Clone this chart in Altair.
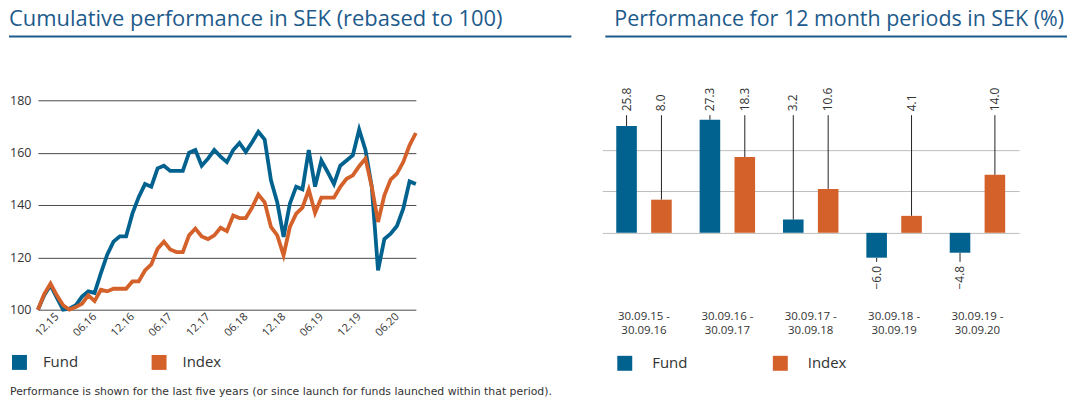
import altair as alt
import pandas as pd

FONT = "Open Sans"
NOTE_FONT = "DejaVu Sans"
TITLE_BLUE = "#1d5b8c"
TEXT = "#333333"
SERIES = ["Fund", "Index"]
COLORS = ["#02628f", "#d4602a"]

LEFT_TITLE = "Cumulative performance in SEK (rebased to 100)"
RIGHT_TITLE = "Performance for 12 month periods in SEK (%)"
FOOTNOTE = ("Performance is shown for the last five years "
            "(or since launch for funds launched within that period).")

# ---- cumulative chart data (monthly, 09.15 .. 09.20) ----
MONTHS = list(range(61))
X_TICK_POS = [3, 9, 15, 21, 27, 33, 39, 45, 51, 57]
X_TICK_LABELS = ["12.15", "06.16", "12.16", "06.17", "12.17",
                 "06.18", "12.18", "06.19", "12.19", "06.20"]
Y_TICKS = [100, 120, 140, 160, 180]
FUND_CUM = [100, 105.5, 109.3, 104.6, 100, 100.4, 101.7, 105, 107, 106.4,
            114, 121, 126, 128, 128, 136.7, 143, 148, 147, 154,
            155, 153, 153, 153, 160, 161, 155, 157.7, 161, 158.5,
            156.4, 161, 163.7, 160.3, 164, 168, 165, 149.4, 141, 127.8,
            140.5, 147, 146, 161, 147, 157, 152.6, 148, 155, 157,
            159, 168.8, 161, 147, 115, 127, 129, 132, 138.6, 149, 148]
INDEX_CUM = [100, 106, 110, 105.5, 101.7, 100, 101, 102.3, 105.5, 103.3,
             107.6, 107, 108, 108, 108, 110.8, 110.8, 115, 117.3, 123.3,
             126, 123, 122, 122, 128.4, 131, 128, 127, 128.4, 131.3,
             130, 136, 135, 135, 139, 144, 141, 131.6, 128.4, 120.8,
             131.6, 136.7, 139, 145.9, 137, 142.8, 142.8, 142.8, 146.9, 150,
             151.3, 154.8, 157.7, 147, 133.5, 143.7, 149.7, 152, 156.4, 162.8, 167.5]

# ---- 12 month periods data ----
PERIODS = ["30.09.15 - 30.09.16", "30.09.16 - 30.09.17", "30.09.17 - 30.09.18",
           "30.09.18 - 30.09.19", "30.09.19 - 30.09.20"]
FUND_12M = [25.8, 27.3, 3.2, -6.0, -4.8]
INDEX_12M = [8.0, 18.3, 10.6, 4.1, 14.0]
GRID_12M = [0, 10, 20]

df_cum = pd.DataFrame({
    "month": MONTHS * 2,
    "series": ["Fund"] * len(MONTHS) + ["Index"] * len(MONTHS),
    "value": FUND_CUM + INDEX_CUM,
})
df_bar = pd.DataFrame({
    "period": PERIODS * 2,
    "series": ["Fund"] * len(PERIODS) + ["Index"] * len(PERIODS),
    "value": FUND_12M + INDEX_12M,
})


def text_layer(text, x, y, size, color, font=FONT, align="left", baseline="middle"):
    return alt.Chart(pd.DataFrame({"t": [text]})).mark_text(
        align=align, baseline=baseline, fontSize=size, color=color, font=font
    ).encode(x=alt.value(x), y=alt.value(y), text="t:N")


def hrule(x1, x2, y, color, width):
    return alt.Chart(pd.DataFrame({"a": [0]})).mark_rule(
        color=color, strokeWidth=width
    ).encode(x=alt.value(x1), x2=alt.value(x2), y=alt.value(y))


# ================= left chart =================
label_expr = ("[" + ",".join(f"'{s}'" for s in X_TICK_LABELS) + "][indexof(["
              + ",".join(str(v) for v in X_TICK_POS) + "], datum.value)]")

lines = alt.Chart(df_cum).mark_line().encode(
    x=alt.X("month:Q", scale=alt.Scale(domain=[0, 60], nice=False, zero=False),
            axis=alt.Axis(values=X_TICK_POS, labelExpr=label_expr, labelAngle=-45,
                          labelAlign="right", labelBaseline="middle", ticks=False,
                          domain=False, grid=False, labelFontSize=11, labelColor=TEXT,
                          labelPadding=5, title=None)),
    y=alt.Y("value:Q", scale=alt.Scale(domain=[100, 180], nice=False, zero=False),
            axis=alt.Axis(values=Y_TICKS, grid=True, gridColor="#4a4a4a", gridWidth=1,
                          ticks=False, domain=False, labelFontSize=12.5, labelColor=TEXT,
                          labelPadding=7, title=None)),
    color=alt.Color("series:N", scale=alt.Scale(domain=SERIES, range=COLORS),
                    legend=alt.Legend(orient="none", legendX=-26, legendY=255,
                                      direction="horizontal", title=None,
                                      symbolType="square", symbolSize=56,
                                      symbolStrokeWidth=7.5, labelFontSize=15,
                                      labelColor=TEXT, labelOffset=16,
                                      columnPadding=61)),
    strokeWidth=alt.value(3.8),
)

left = alt.layer(
    text_layer(LEFT_TITLE, -29, -81, 22, TITLE_BLUE),
    hrule(-29, 535, -64, TITLE_BLUE, 2),
    lines,
    text_layer(FOOTNOTE, -28, 293, 10.9, TEXT, font=NOTE_FONT),
).properties(width=379, height=210)

# ================= right chart =================
Y_DOM = [-7, 32]
xenc = alt.X("period:N", sort=PERIODS, scale=alt.Scale(paddingInner=0, paddingOuter=0),
             axis=alt.Axis(labelExpr="[substring(datum.label, 0, 10), substring(datum.label, 11)]",
                           labelAngle=0, labelAlign="center", labelBaseline="top",
                           labelPadding=49, labelFontSize=11.5, labelLineHeight=14,
                           ticks=False, domain=False, grid=False, title=None,
                           labelColor=TEXT))
xoff = alt.XOffset("series:N", sort=SERIES,
                   scale=alt.Scale(domain=SERIES, paddingInner=0.41, paddingOuter=0.4))
y_axis = alt.Axis(values=GRID_12M, grid=True, gridColor="#bdbdbd", labels=False,
                  ticks=False, domain=False, title=None)
yenc = alt.Y("value:Q", scale=alt.Scale(domain=Y_DOM, nice=False, zero=False), axis=y_axis)
yanchor = alt.Y("anchor:Q", scale=alt.Scale(domain=Y_DOM, nice=False, zero=False), axis=y_axis)

base = alt.Chart(df_bar).transform_calculate(anchor="datum.value >= 0 ? 28.4 : -7.0")

stems = base.mark_rule(color="#222222", strokeWidth=1).encode(
    x=xenc, xOffset=xoff, y=yenc, y2="anchor:Q")
bars = base.mark_bar().encode(
    x=xenc, xOffset=xoff, y=yenc, y2=alt.datum(0),
    color=alt.Color("series:N", scale=alt.Scale(domain=SERIES, range=COLORS),
                    legend=alt.Legend(orient="none", legendX=14, legendY=255,
                                      direction="horizontal", title=None,
                                      symbolType="square", symbolSize=225,
                                      labelFontSize=15, labelColor=TEXT,
                                      labelOffset=19, columnPadding=84)))
pos_labels = base.transform_filter("datum.value >= 0").mark_text(
    angle=270, align="left", baseline="middle", dx=4, fontSize=12, color=TEXT
).encode(x=xenc, xOffset=xoff, y=yanchor, text=alt.Text("value:Q", format=".1f"))
neg_labels = base.transform_filter("datum.value < 0").mark_text(
    angle=270, align="right", baseline="middle", dx=-4, fontSize=12, color=TEXT
).encode(x=xenc, xOffset=xoff, y=yanchor, text=alt.Text("value:Q", format=".1f"))

right = alt.layer(
    text_layer(RIGHT_TITLE, 12, -81, 21.5, TITLE_BLUE),
    hrule(3, 466, -64, TITLE_BLUE, 2),
    stems, bars, pos_labels, neg_labels,
).properties(width=418, height=162)

chart = alt.hconcat(left, right, spacing=30).resolve_scale(
    color="independent").resolve_legend(color="independent").properties(
    padding=0).configure(font=FONT).configure_view(stroke=None)

chart.save("out.html", embed_options={"renderer": "svg", "actions": False})
